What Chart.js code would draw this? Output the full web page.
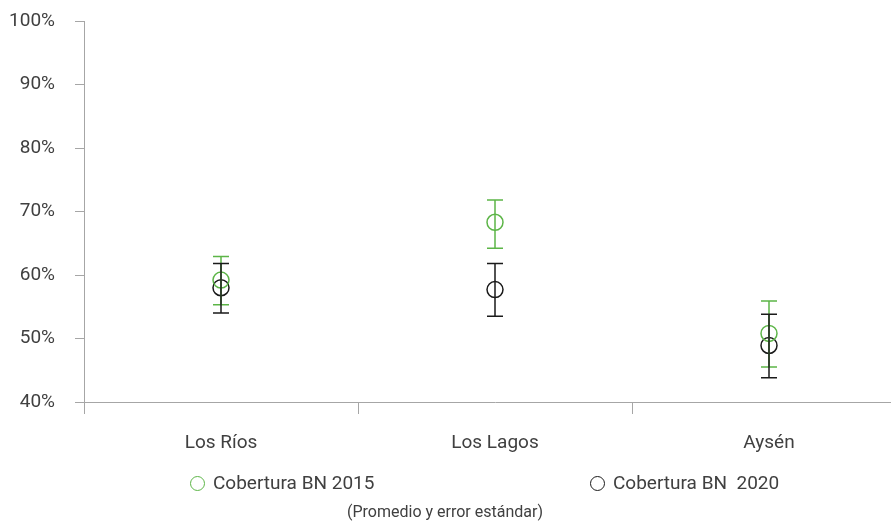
<!DOCTYPE html>
<html>
<head>
<meta charset="utf-8">
<script src="https://cdn.jsdelivr.net/npm/chart.js@4/dist/chart.umd.min.js"></script>
<style>
  html,body{margin:0;padding:0;background:#fff;overflow:hidden;}
  #wrap{position:relative;width:891px;height:527px;font-family:Roboto,sans-serif;color:#404040;overflow:hidden;}
  canvas{position:absolute;left:0;top:0;}
  .leg{position:absolute;top:472px;font-size:19px;line-height:22px;white-space:pre;}
  .dot{display:inline-block;box-sizing:border-box;width:15px;height:15px;border-radius:50%;border:1.5px solid;vertical-align:-2px;margin-right:8px;}
  #cap{position:absolute;top:502px;left:347px;font-size:16px;line-height:20px;white-space:pre;}
</style>
</head>
<body>
<div id="wrap">
  <!-- canvas is a little wider than the frame: the plot runs past the right edge, as in the source -->
  <canvas id="c" width="906" height="527"></canvas>
  <div class="leg" style="left:190px"><span class="dot" style="border-color:#5CB547"></span>Cobertura BN 2015</div>
  <div class="leg" style="left:590px"><span class="dot" style="border-color:#1a1a1a"></span>Cobertura BN  2020</div>
  <div id="cap">(Promedio y error estándar)</div>
</div>
<script>
const regions = ['Los Ríos','Los Lagos','Aysén']
const mean2015 = [59.2, 68.3, 50.8]
const low2015  = [55.3, 64.2, 45.5]
const high2015 = [62.9, 71.8, 55.9]
const mean2020 = [58.0, 57.7, 48.9]
const low2020  = [54.0, 53.5, 43.8]
const high2020 = [61.8, 61.8, 53.8]

const C = { green:'#5CB547', black:'#1a1a1a', axis:'#a6a6a6', text:'#404040' }
const FONT = 'Roboto'

// vertical error bars with caps, drawn through the chart's own scales
const errorBars = {
  id:'errorBars',
  afterDatasetsDraw(chart){
    const {ctx, scales:{x,y}} = chart
    chart.data.datasets.forEach(ds=>{
      ctx.save()
      ctx.strokeStyle = ds.borderColor
      ctx.lineWidth = 1.5
      ds.data.forEach((v,i)=>{
        const px = x.getPixelForValue(i)
        const top = y.getPixelForValue(ds.high[i]), bot = y.getPixelForValue(ds.low[i])
        ctx.beginPath()
        ctx.moveTo(px,top); ctx.lineTo(px,bot)
        ctx.moveTo(px-8,top); ctx.lineTo(px+8,top)
        ctx.moveTo(px-8,bot); ctx.lineTo(px+8,bot)
        ctx.stroke()
      })
      ctx.restore()
    })
  }
}

new Chart(document.getElementById('c'),{
  type:'line',
  data:{ labels:regions,
    datasets:[
      { label:'Cobertura BN 2015', data:mean2015, low:low2015, high:high2015, showLine:false,
        borderColor:C.green, backgroundColor:'transparent', pointRadius:8, pointBorderWidth:1.5, pointHoverRadius:8 },
      { label:'Cobertura BN  2020', data:mean2020, low:low2020, high:high2020, showLine:false,
        borderColor:C.black, backgroundColor:'transparent', pointRadius:8, pointBorderWidth:1.5, pointHoverRadius:8 }
    ]
  },
  options:{
    responsive:false, animation:false,
    layout:{ autoPadding:false, padding:{top:21,right:0,bottom:0,left:0} },
    plugins:{ legend:{display:false}, tooltip:{enabled:false} },
    scales:{
      x:{ offset:true,
        grid:{ offset:true, drawOnChartArea:false, drawTicks:true, tickLength:12, color:C.axis },
        border:{ color:C.axis },
        ticks:{ color:C.text, font:{family:FONT,size:19}, padding:18 },
        afterFit(s){ s.height = 125 }
      },
      y:{ min:40, max:100,
        grid:{ drawOnChartArea:false, drawTicks:true, tickLength:9, color:C.axis },
        border:{ color:C.axis },
        ticks:{ stepSize:10, color:C.text, font:{family:FONT,size:19}, padding:20, callback:v=>v+'%' },
        afterFit(s){ s.width = 84; s.paddingTop = 0; s.paddingBottom = 0 }
      }
    }
  },
  plugins:[errorBars]
})
</script>
</body>
</html>
